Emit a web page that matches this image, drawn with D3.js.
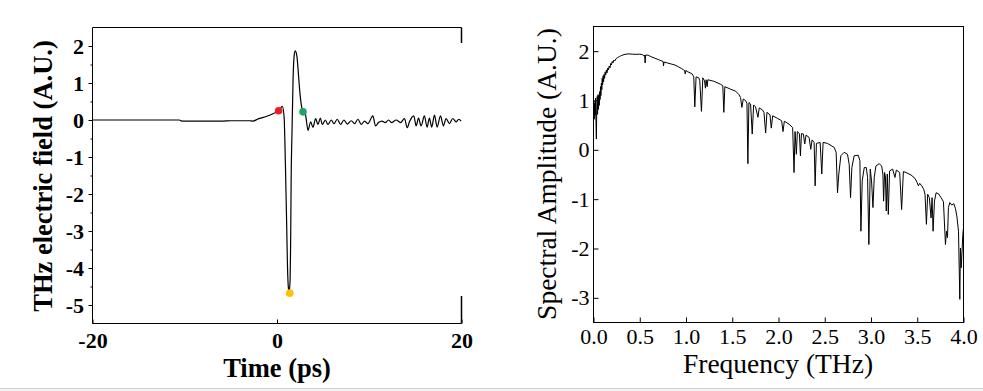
<!DOCTYPE html>
<html><head><meta charset="utf-8">
<script src="https://cdn.jsdelivr.net/npm/d3@7"></script>
<style>html,body{margin:0;padding:0;background:#fff;} svg{display:block;}</style>
</head><body>
<svg id="chart" width="983" height="391"></svg>
<script>
// ---- Left panel: THz time-domain pulse ----
const timePs = [-20,-10.6,-10.3,-6.0,-5.0,-3.0,-2.6,-2.05,-1.33,-0.43,0.18,0.58,0.77,0.91,1.06,1.13,1.24,1.33,1.42,1.47,1.50,1.53,1.63,1.74,1.88,1.99,2.17,2.32,2.46,2.64,2.82,3.07,3.18,3.36,3.65,3.90,4.19,4.44,4.70,4.91,5.24,5.52,5.88,6.17,6.53,6.89,7.25,7.62,8.05,8.41,8.77,9.13,9.49,9.85,10.39,10.68,11.00,11.36,11.73,12.09,12.45,12.92,13.39,13.82,14.11,14.36,14.83,15.08,15.34,15.62,15.98,16.27,16.52,16.77,17.07,17.36,17.72,18.04,18.33,18.69,19.05,19.41,19.70,19.96];
const fieldAU = [0,0,-0.03,-0.03,-0.02,-0.02,-0.03,0.03,0.08,0.17,0.25,0.37,0.08,-1.18,-2.98,-3.88,-4.55,-4.65,-4.3,-3.5,-2.7,-1.72,-0.28,1.08,1.78,1.87,1.70,1.25,0.80,0.40,0.22,0.17,0.0,-0.28,-0.05,-0.20,0.04,-0.12,0.05,-0.12,0.00,-0.12,0.00,-0.10,0.02,-0.12,0.00,-0.11,-0.02,-0.10,0.02,-0.12,-0.03,-0.10,0.11,-0.16,-0.07,-0.03,-0.07,0.00,-0.07,0.00,-0.07,0.04,-0.21,-0.05,0.11,-0.16,0.05,-0.16,0.11,-0.19,0.05,-0.19,0.13,-0.19,0.11,-0.16,0.04,-0.10,0.04,-0.05,0.02,-0.03];
const markerTimes = [0.18, 1.38, 2.82];
const markerValues = [0.25, -4.68, 0.22];
const markerColors = ["#ee1c24", "#ffc000", "#1fa463"];
const leftXTicks = [-20, 0, 20];
const leftYTicks = [-5, -4, -3, -2, -1, 0, 1, 2];
const leftYMinor = [-4.5, -3.5, -2.5, -1.5, -0.5, 0.5, 1.5];

// ---- Right panel: spectral amplitude ----
const freqTHz = [0.000,0.004,0.008,0.013,0.018,0.022,0.027,0.031,0.035,0.040,0.044,0.049,0.053,0.058,0.062,0.067,0.071,0.076,0.080,0.085,0.090,0.094,0.099,0.104,0.109,0.114,0.120,0.126,0.132,0.140,0.146,0.155,0.162,0.170,0.178,0.186,0.194,0.202,0.210,0.220,0.230,0.245,0.260,0.280,0.300,0.330,0.370,0.420,0.460,0.500,0.530,0.545,0.553,0.558,0.563,0.590,0.620,0.660,0.700,0.740,0.753,0.757,0.762,0.800,0.840,0.880,0.920,0.950,0.975,0.984,0.992,0.998,1.012,1.066,1.084,1.095,1.109,1.138,1.149,1.167,1.182,1.200,1.210,1.217,1.229,1.236,1.300,1.373,1.398,1.409,1.420,1.481,1.536,1.572,1.590,1.604,1.619,1.644,1.659,1.669,1.680,1.698,1.716,1.731,1.752,1.778,1.792,1.825,1.843,1.861,1.875,1.908,1.922,1.937,1.987,2.034,2.049,2.063,2.114,2.153,2.168,2.179,2.193,2.204,2.226,2.237,2.248,2.269,2.284,2.298,2.331,2.349,2.363,2.385,2.396,2.410,2.450,2.468,2.482,2.529,2.602,2.623,2.638,2.652,2.674,2.710,2.746,2.764,2.779,2.793,2.818,2.862,2.880,2.891,2.905,2.927,2.949,2.963,2.977,2.992,3.006,3.021,3.035,3.053,3.089,3.115,3.129,3.136,3.147,3.156,3.165,3.176,3.187,3.201,3.234,3.259,3.274,3.310,3.331,3.350,3.378,3.433,3.476,3.498,3.512,3.527,3.548,3.570,3.584,3.599,3.613,3.631,3.649,3.660,3.671,3.686,3.704,3.729,3.758,3.783,3.805,3.816,3.827,3.837,3.852,3.874,3.895,3.913,3.928,3.946,3.960,3.967,3.975,3.986,3.993,4.000];
const amplitudeAU = [0.85,1.00,0.62,0.95,0.70,1.05,0.55,0.22,0.80,1.08,0.72,1.12,0.82,1.10,0.90,1.18,1.02,1.28,1.10,1.35,1.22,1.45,1.32,1.50,1.38,1.53,1.45,1.58,1.52,1.62,1.56,1.66,1.62,1.70,1.66,1.75,1.72,1.79,1.76,1.82,1.80,1.85,1.87,1.89,1.91,1.93,1.945,1.94,1.935,1.94,1.93,1.90,1.92,1.76,1.92,1.92,1.89,1.86,1.83,1.80,1.79,1.70,1.78,1.76,1.74,1.72,1.68,1.65,1.62,1.61,1.54,1.61,1.59,1.54,1.48,0.87,1.48,1.46,1.40,0.78,1.46,1.40,1.25,1.42,1.28,1.42,1.39,1.33,1.30,0.76,1.28,1.23,1.19,1.12,1.06,0.86,1.03,1.00,0.94,-0.28,0.96,0.93,0.32,0.91,0.87,0.66,0.85,0.81,0.76,0.34,0.76,0.71,0.44,0.69,0.64,0.59,0.37,0.58,0.52,0.45,-0.46,0.37,-0.09,0.37,0.33,-0.12,0.33,0.32,0.12,0.30,0.25,0.01,0.20,0.15,-0.73,0.13,0.15,-0.49,0.15,0.13,0.05,-0.05,-0.87,-0.49,-0.12,-0.05,-0.09,-0.29,-0.97,-0.36,-0.12,-0.11,-0.22,-1.65,-0.63,-0.36,-0.36,-0.56,-1.92,-0.39,-0.63,-1.17,-0.56,-0.33,-0.28,-0.33,-0.49,-1.04,-0.46,-0.55,-1.24,-0.49,-1.31,-0.43,-0.39,-0.56,-0.41,-0.46,-1.21,-0.44,-0.46,-0.51,-0.58,-0.66,-0.73,-0.68,-0.73,-0.80,-0.90,-1.51,-0.90,-0.97,-1.38,-0.97,-1.65,-1.04,-0.87,-0.89,-0.97,-1.05,-1.92,-1.65,-1.78,-1.17,-1.07,-1.12,-1.09,-1.19,-1.34,-1.65,-3.03,-1.99,-2.39,-1.99,-1.71,-1.58];
const rightXTicks = [0, 0.5, 1.0, 1.5, 2.0, 2.5, 3.0, 3.5, 4.0];
const rightYTicks = [-3, -2, -1, 0, 1, 2];

const serif = "'Liberation Serif','Times New Roman',Times,serif";
const svg = d3.select("#chart");

// bottom grey strip
svg.append("rect").attr("x",0).attr("y",388).attr("width",983).attr("height",3).attr("fill","#f3f3f3");
svg.append("line").attr("x1",0).attr("x2",983).attr("y1",388.5).attr("y2",388.5).attr("stroke","#d0d0d0");

// ================= LEFT PANEL =================
const L = {x0: 92.5, x1: 461.5, y0: 27.5, y1: 323.5};
const xL = d3.scaleLinear().domain([-20, 20]).range([L.x0, L.x1]);
const yL = d3.scaleLinear().domain([-5.5, 2.5]).range([L.y1, L.y0]);
const gL = svg.append("g");

const lineL = d3.line().x(d => xL(d[0])).y(d => yL(d[1])).curve(d3.curveMonotoneX);
gL.append("path").datum(d3.zip(timePs, fieldAU))
  .attr("d", lineL).attr("fill","none").attr("stroke","#000").attr("stroke-width",1.2)
  .attr("stroke-linejoin","round");

gL.selectAll("circle.mk").data(d3.range(markerTimes.length)).join("circle")
  .attr("cx", i => xL(markerTimes[i])).attr("cy", i => yL(markerValues[i]))
  .attr("r", 3.8).attr("fill", i => markerColors[i]);

// y axis
const yAxL = gL.append("g").attr("transform",`translate(${L.x0},0)`)
  .call(d3.axisLeft(yL).tickValues(leftYTicks).tickFormat(d => String(d)).tickSize(4).tickPadding(4.5));
yAxL.select(".domain").remove();
yAxL.selectAll("text").attr("font-family", serif).attr("font-size", 22).attr("font-weight","bold").attr("fill","#000");
const yAxLm = gL.append("g").attr("transform",`translate(${L.x0},0)`)
  .call(d3.axisLeft(yL).tickValues(leftYMinor).tickFormat("").tickSize(2));
yAxLm.select(".domain").remove();

// x axis
const xAxL = gL.append("g").attr("transform",`translate(0,${L.y1})`)
  .call(d3.axisBottom(xL).tickValues(leftXTicks).tickFormat(d => String(d)).tickSize(-4).tickPadding(9));
xAxL.select(".domain").remove();
xAxL.selectAll("text").attr("font-family", serif).attr("font-size", 22).attr("font-weight","bold").attr("fill","#000");

// frame
gL.append("line").attr("x1",L.x0).attr("x2",L.x0).attr("y1",L.y0).attr("y2",L.y1).attr("stroke","#000");
gL.append("line").attr("x1",L.x0).attr("x2",L.x1).attr("y1",L.y1).attr("y2",L.y1).attr("stroke","#000");
gL.append("line").attr("x1",L.x0).attr("x2",L.x1).attr("y1",L.y0).attr("y2",L.y0).attr("stroke","#000");
gL.append("line").attr("x1",L.x1).attr("x2",L.x1).attr("y1",L.y0).attr("y2",43).attr("stroke","#000").attr("stroke-width",1.5);
gL.append("line").attr("x1",L.x1).attr("x2",L.x1).attr("y1",296).attr("y2",L.y1).attr("stroke","#000").attr("stroke-width",1.5);

gL.append("text").attr("x",277).attr("y",377).attr("text-anchor","middle")
  .attr("font-family",serif).attr("font-size",26.5).attr("font-weight","bold").text("Time (ps)");
gL.append("text").attr("transform","translate(52,176) rotate(-90)").attr("text-anchor","middle")
  .attr("font-family",serif).attr("font-size",26.5).attr("font-weight","bold").text("THz electric field (A.U.)");

// ================= RIGHT PANEL =================
const R = {x0: 593.5, x1: 963.5, y0: 26.5, y1: 322.5};
const xR = d3.scaleLinear().domain([0, 4]).range([R.x0, R.x1]);
const yR = d3.scaleLinear().domain([-3.5, 2.5]).range([R.y1, R.y0]);
const gR = svg.append("g");

const lineR = d3.line().x(d => xR(d[0])).y(d => yR(d[1]));
gR.append("path").datum(d3.zip(freqTHz, amplitudeAU))
  .attr("d", lineR).attr("fill","none").attr("stroke","#000").attr("stroke-width",1)
  .attr("stroke-linejoin","round");

const yAxR = gR.append("g").attr("transform",`translate(${R.x0},0)`)
  .call(d3.axisLeft(yR).tickValues(rightYTicks).tickFormat(d => String(d)).tickSize(-5).tickPadding(4));
yAxR.select(".domain").remove();
yAxR.selectAll("text").attr("font-family", serif).attr("font-size", 22).attr("fill","#000");

const xAxR = gR.append("g").attr("transform",`translate(0,${R.y1})`)
  .call(d3.axisBottom(xR).tickValues(rightXTicks).tickFormat(d3.format(".1f")).tickSize(-5).tickPadding(6));
xAxR.select(".domain").remove();
xAxR.selectAll("text").attr("font-family", serif).attr("font-size", 22).attr("fill","#000");

gR.append("rect").attr("x",R.x0).attr("y",R.y0).attr("width",R.x1-R.x0).attr("height",R.y1-R.y0)
  .attr("fill","none").attr("stroke","#000");

gR.append("text").attr("x",778).attr("y",373).attr("text-anchor","middle")
  .attr("font-family",serif).attr("font-size",27.5).text("Frequency (THz)");
gR.append("text").attr("transform","translate(556,174) rotate(-90)").attr("text-anchor","middle")
  .attr("font-family",serif).attr("font-size",27.5).text("Spectral Amplitude (A.U.)");
</script>
</body></html>
